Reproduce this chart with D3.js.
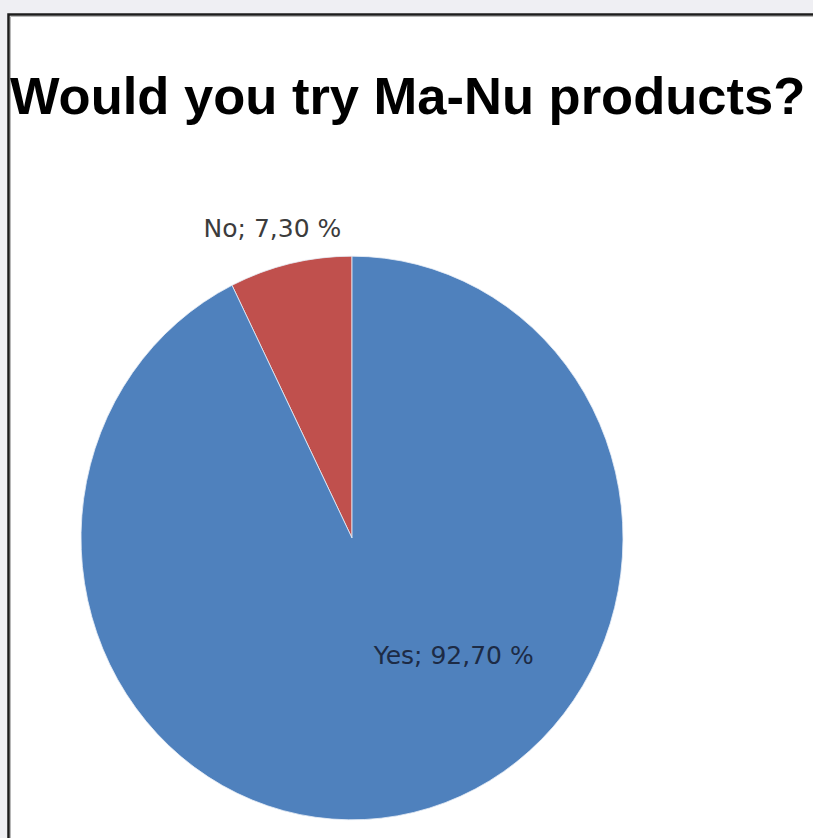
<!DOCTYPE html>
<html>
<head>
<meta charset="utf-8">
<script src="https://cdn.jsdelivr.net/npm/d3@7"></script>
<style>
  body { margin: 0; background: #efeff3; }
  svg { display: block; }
</style>
</head>
<body>
<svg width="813" height="838"></svg>
<script>
// chart data
const categories = ['No', 'Yes'];
const shares = [7.30, 92.70];
const sliceColors = ['#c0504d', '#4f81bd'];
const labelText = ['No; 7,30 %', 'Yes; 92,70 %'];
const titleText = 'Would you try Ma-Nu products?';

const data = categories.map((c, i) => ({ name: c, value: shares[i] }));

const svg = d3.select('svg');

// frame: white plot area with dark top/left border
svg.append('rect').attr('x', 8).attr('y', 14).attr('width', 805).attr('height', 824).attr('fill', '#fff');
svg.append('path').attr('d', 'M8.5,838 V14.5 H813').attr('fill', 'none').attr('stroke', '#1c1c1c').attr('stroke-width', 2.5);
svg.append('path').attr('d', 'M10.5,838 V16.5 H813').attr('fill', 'none').attr('stroke', '#b8b8b8').attr('stroke-width', 1);

svg.append('text')
  .attr('x', 10).attr('y', 114)
  .style('font-family', '"Liberation Sans", Arial, sans-serif')
  .style('font-weight', 'bold')
  .style('font-size', '52.5px')
  .attr('fill', '#000')
  .text(titleText);

// pie (slightly taller than wide, as in the picture)
const cx = 352, cy = 538, r = 271, yStretch = 1.04;

const pie = d3.pie().sort(null).value(d => d.value)
  .startAngle(-2 * Math.PI * shares[0] / 100)
  .endAngle(2 * Math.PI - 2 * Math.PI * shares[0] / 100);
const arcs = pie(data);
const arc = d3.arc().innerRadius(0).outerRadius(r);

const g = svg.append('g').attr('transform', `translate(${cx},${cy}) scale(1,${yStretch})`);
g.selectAll('path.slice')
  .data(arcs)
  .enter()
  .append('path')
  .classed('slice', true)
  .attr('d', arc)
  .attr('fill', (d, i) => sliceColors[i])
  .attr('stroke', '#e8eef6')
  .attr('stroke-width', 0.8);

// labels: "No" outside its slice, "Yes" inside (best-fit like Excel)
const outerLabelArc = d3.arc().innerRadius(306).outerRadius(306);
const labelPos = arcs.map((d, i) => {
  if (i === 0) {
    const [x, y] = outerLabelArc.centroid(d);
    return [cx + x - 10, cy + y * yStretch];
  }
  const a = 138 * Math.PI / 180, rr = 152;
  return [cx + Math.sin(a) * rr, cy - Math.cos(a) * rr * yStretch];
});

svg.selectAll('text.lbl')
  .data(arcs)
  .enter()
  .append('text')
  .classed('lbl', true)
  .attr('x', (d, i) => labelPos[i][0])
  .attr('y', (d, i) => labelPos[i][1])
  .attr('dy', '0.36em')
  .attr('text-anchor', 'middle')
  .style('font-family', '"DejaVu Sans", sans-serif')
  .style('font-size', '25px')
  .attr('fill', (d, i) => i === 0 ? '#3c3c3c' : '#1d2b45')
  .text((d, i) => labelText[i]);
</script>
</body>
</html>
